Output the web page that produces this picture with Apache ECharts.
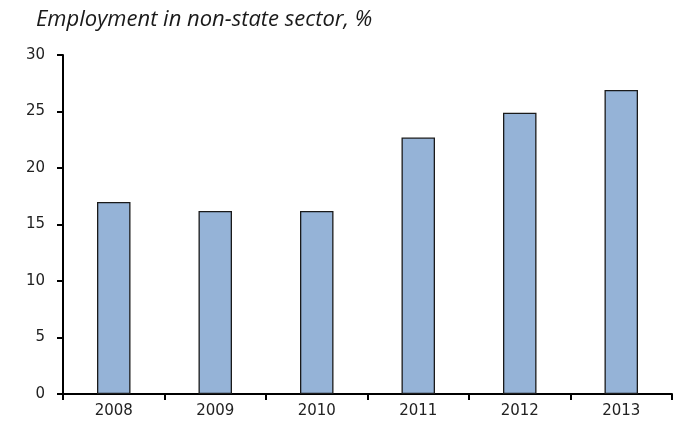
<!DOCTYPE html>
<html>
<head>
<meta charset="utf-8">
<script src="https://cdn.jsdelivr.net/npm/echarts@6/dist/echarts.min.js"></script>
<style>
  html, body { margin: 0; padding: 0; background: #fff; }
  #mychart { width: 681px; height: 431px; }
</style>
</head>
<body>
<div id="mychart"></div>
<script>
var years = ['2008', '2009', '2010', '2011', '2012', '2013'];
var shares = [17.0, 16.2, 16.2, 22.7, 24.9, 26.9];
var yTicks = [0, 30, 5];

var chart = echarts.init(document.getElementById('mychart'));
var option = {
    animation: false,
    backgroundColor: '#ffffff',
    title: {
        text: 'Employment in non-state sector, %',
        left: 31,
        top: 4,
        textStyle: {
            fontFamily: 'Open Sans',
            fontStyle: 'italic',
            fontWeight: 'normal',
            fontSize: 22,
            color: '#1a1a1a'
        }
    },
    grid: { left: 63, right: 9, top: 55, bottom: 37 },
    xAxis: {
        type: 'category',
        data: years,
        axisLine: { lineStyle: { color: '#000', width: 2 } },
        axisTick: { show: true, length: 6, lineStyle: { color: '#000', width: 2 } },
        axisLabel: { margin: 10, color: '#222', fontFamily: 'DejaVu Sans', fontSize: 15 }
    },
    yAxis: {
        type: 'value',
        min: yTicks[0],
        max: yTicks[1],
        interval: yTicks[2],
        splitLine: { show: false },
        axisLine: { show: true, lineStyle: { color: '#000', width: 2 } },
        axisTick: { show: true, length: 6, lineStyle: { color: '#000', width: 2 } },
        axisLabel: { margin: 18, color: '#222', fontFamily: 'DejaVu Sans', fontSize: 15 }
    },
    series: [{
        type: 'bar',
        data: shares,
        barWidth: '33%',
        itemStyle: {
            color: '#95b3d7',
            borderColor: '#1a1a1a',
            borderWidth: 1.3
        }
    }]
};
chart.setOption(option);
</script>
</body>
</html>
